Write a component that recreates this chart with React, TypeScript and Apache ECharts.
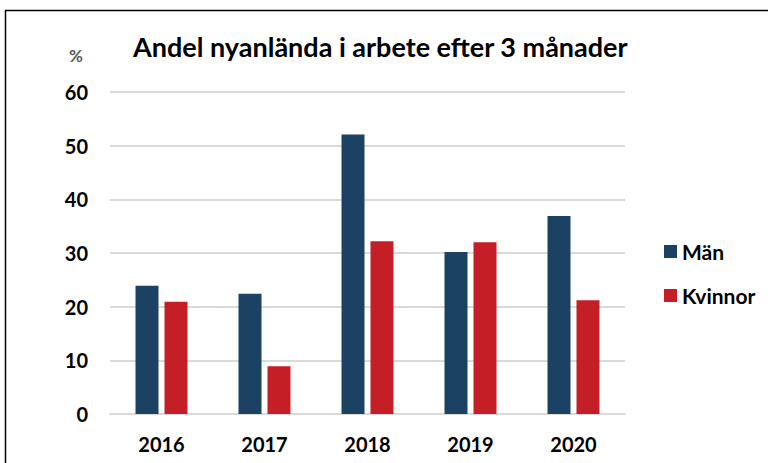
import React, { useEffect, useRef } from "react";
import * as echarts from "echarts";

const categories = ["2016", "2017", "2018", "2019", "2020"];
const manValues = [23.9, 22.4, 52.1, 30.2, 36.9];
const kvinnorValues = [20.9, 8.9, 32.2, 32.0, 21.2];
const seriesNames = ["Män", "Kvinnor"];
const titleText = "Andel nyanlända i arbete efter 3 månader";
const unitLabel = "%";

const FONT = "Lato, 'Liberation Sans', sans-serif";

export default function App() {
  const ref = useRef<HTMLDivElement>(null);
  useEffect(() => {
    if (!ref.current) return;
    const chart = echarts.init(ref.current, null, { renderer: "svg" });
    chart.setOption({
      animation: false,
      backgroundColor: "#ffffff",
      title: {
        text: titleText,
        left: 128,
        top: 28,
        textStyle: { fontFamily: FONT, fontWeight: "bold", fontSize: 27, color: "#000" },
      },
      graphic: [
        {
          type: "rect",
          shape: { x: 5.5, y: 10.5, width: 900, height: 600 },
          style: { fill: "none", stroke: "#000", lineWidth: 1.5 },
          silent: true,
        },
        {
          type: "text",
          left: 69,
          top: 47,
          style: { text: unitLabel, fontFamily: FONT, fontWeight: "bold", fontSize: 17, fill: "#595959" },
        },
      ],
      legend: {
        orient: "vertical",
        left: 659,
        top: 236,
        itemWidth: 13,
        itemHeight: 13,
        itemGap: 23,
        icon: "rect",
        textStyle: { fontFamily: FONT, fontWeight: "bold", fontSize: 21, color: "#000" },
        data: seriesNames,
      },
      grid: { left: 110, right: 143, top: 92, bottom: 49, containLabel: false },
      xAxis: {
        type: "category",
        data: categories,
        axisLine: { lineStyle: { color: "#d9d9d9", width: 2 } },
        axisTick: { show: false },
        axisLabel: { fontFamily: FONT, fontWeight: "bold", fontSize: 20, color: "#000", margin: 20 },
      },
      yAxis: {
        type: "value",
        min: 0,
        max: 60,
        interval: 10,
        axisLine: { show: false },
        axisTick: { show: false },
        splitLine: { lineStyle: { color: "#d9d9d9", width: 2 } },
        axisLabel: { fontFamily: FONT, fontWeight: "bold", fontSize: 20, color: "#000", margin: 22 },
      },
      series: [
        {
          name: seriesNames[0],
          type: "bar",
          data: manValues,
          barWidth: 23,
          barGap: "26%",
          itemStyle: { color: "#1c4263" },
        },
        {
          name: seriesNames[1],
          type: "bar",
          data: kvinnorValues,
          barWidth: 23,
          barGap: "26%",
          itemStyle: { color: "#c41f26" },
        },
      ],
    });
    return () => chart.dispose();
  }, []);
  return <div ref={ref} style={{ width: 768, height: 463, position: "absolute", left: 0, top: 0 }} />;
}
